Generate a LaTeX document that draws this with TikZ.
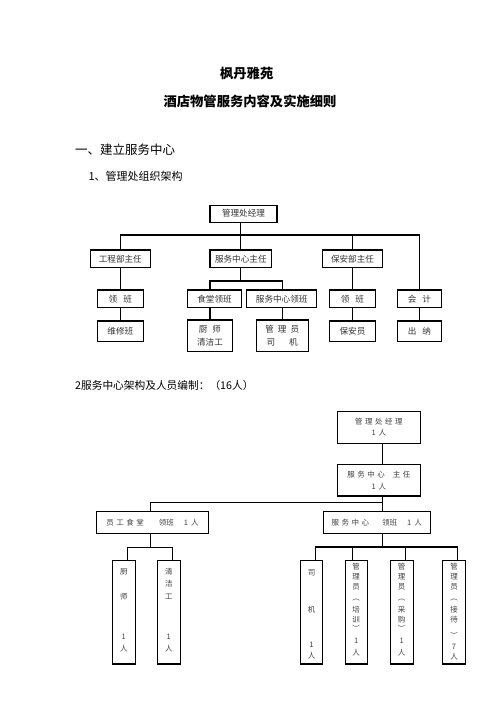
\documentclass[tikz,border=0pt]{standalone}
\usepackage{fontspec}
\setmainfont{Noto Sans CJK SC}
\usetikzlibrary{calc}
\newcommand{\lsgap}{\hspace{2.5pt}}
\tikzset{
  box/.style={draw, line width=1.1pt, inner sep=0pt, align=center, text=black!80},
  ca/.style={font=\fontsize{8.6}{13.4}\selectfont},
  cb/.style={font=\fontsize{7.5}{11.8}\selectfont, text=black!75},
  vt/.style={inner sep=0pt, text=black!75, font=\fontsize{7.5}{9}\selectfont},
  conn/.style={line width=1.1pt},
  txt/.style={inner sep=0pt, text=black},
}
\begin{document}
\begin{tikzpicture}[x=1pt,y=-1pt]
\fill[white] (0,0) rectangle (496,702);
\useasboundingbox (0,0) rectangle (496,702);

% titles
\node[txt, font=\bfseries\fontsize{13.3}{16}\selectfont] (t1) at (246.7,73.3) {枫丹雅苑};
\node[txt, font=\bfseries\fontsize{13.3}{16}\selectfont] (t2) at (250,101.7) {酒店物管服务内容及实施细则};
\node[txt, anchor=west, font=\fontsize{12.5}{15}\selectfont] (s1) at (75,150) {一、建立服务中心};
\node[txt, anchor=west, font=\fontsize{11}{13}\selectfont] (s2) at (88.3,176.7) {1、管理处组织架构};
\node[txt, anchor=west, font=\fontsize{10.7}{13}\selectfont] (s3) at (75,385) {2服务中心架构及人员编制：（16人）};

% ---------- chart 1 ----------
\node[box, ca, minimum width=67pt, minimum height=17.3pt] (m1) at (243.5,213.7) {管理处经理};

\node[box, ca, minimum width=60pt, minimum height=17.7pt] (a1) at (120.3,258.8) {工程部主任};
\node[box, ca, minimum width=61.7pt, minimum height=17.7pt] (a2) at (240.8,258.8) {服务中心主任};
\node[box, ca, minimum width=60.7pt, minimum height=17.7pt] (a3) at (352.5,258.8) {保安部主任};

\node[box, ca, minimum width=46pt, minimum height=17.7pt] (b1) at (120.3,298.8) {领\hspace{6pt}班};
\node[box, ca, minimum width=54.4pt, minimum height=17.7pt] (b2) at (214.5,298.8) {食堂领班};
\node[box, ca, minimum width=70pt, minimum height=17.7pt] (b3) at (281.7,298.8) {服务中心领班};
\node[box, ca, minimum width=46.7pt, minimum height=17.7pt] (b4) at (352.5,298.8) {领\hspace{6pt}班};
\node[box, ca, minimum width=44pt, minimum height=17.7pt] (b5) at (419.5,298.8) {会\hspace{6pt}计};

\node[box, ca, minimum width=46pt, minimum height=20.7pt] (c1) at (120.3,331.3) {维修班};
\node[box, ca, minimum width=45.4pt, minimum height=31.7pt] (c2) at (210,335.8) {厨\hspace{5pt}师\\清洁工};
\node[box, ca, minimum width=52.3pt, minimum height=31.7pt] (c3) at (282.2,335.8) {管\hspace{4pt}理\hspace{4pt}员\\司\hspace{14pt}机};
\node[box, ca, minimum width=46.7pt, minimum height=20.7pt] (c4) at (352.5,331.3) {保安员};
\node[box, ca, minimum width=44pt, minimum height=20.7pt] (c5) at (419.5,331.3) {出\hspace{6pt}纳};

\coordinate (h1) at (240.8,235);
\coordinate (h2) at (240.8,281);
\draw[conn] (m1.south -| a2) -- (a2.north);
\draw[conn] (a1.north) |- (h1) -| (b5.north);
\draw[conn] (a3.north) -- (a3 |- h1);
\draw[conn] (a1.south) -- (b1.north);
\draw[conn] (b1.south) -- (c1.north);
\draw[conn] (a2.south) -- (h2);
\draw[conn] (c2 |- b2.north) |- (h2) -| (c3 |- b3.north);
\draw[conn] (c2 |- b2.south) -- (c2.north);
\draw[conn] (c3 |- b3.south) -- (c3.north);
\draw[conn] (a3.south) -- (b4.north);
\draw[conn] (b4.south) -- (c4.north);
\draw[conn] (b5.south) -- (c5.north);

% ---------- chart 2 ----------
\node[box, cb, minimum width=82.8pt, minimum height=31.7pt] (n1) at (378.9,427.2)
  {管\lsgap 理\lsgap 处\lsgap 经\lsgap 理\\1\hspace{3pt}人};
\node[box, cb, minimum width=82.8pt, minimum height=31.3pt] (n2) at (378.9,480.3)
  {服\lsgap 务\lsgap 中\lsgap 心\hspace{8pt}主\lsgap 任\\1\hspace{3pt}人};
\node[box, cb, minimum width=111.6pt, minimum height=22.3pt] (n3) at (152.5,522.2)
  {员\lsgap 工\lsgap 食\lsgap 堂\hspace{15pt}领班\hspace{10pt}1\hspace{3pt}人};
\node[box, cb, minimum width=106.7pt, minimum height=22.3pt] (n4) at (376.7,522.2)
  {服\lsgap 务\lsgap 中\lsgap 心\hspace{13pt}领班\hspace{10pt}1\hspace{3pt}人};

\node[box, minimum width=23pt, minimum height=103.3pt] (k1) at (123.8,612.3) {};
\node[box, minimum width=22.5pt, minimum height=103.3pt] (k2) at (168.8,612.3) {};
\node[box, minimum width=21.6pt, minimum height=103.3pt] (k3) at (311.5,612.3) {};
\node[box, minimum width=22.3pt, minimum height=103.3pt] (k4) at (356.2,612.3) {};
\node[box, minimum width=23.3pt, minimum height=103.3pt] (k5) at (401.7,612.3) {};
\node[box, minimum width=23.4pt, minimum height=103.3pt] (k6) at (454,612.3) {};

% vertical texts
\node[vt] at (123.8,571.7) {厨};
\node[vt] at (123.8,596.7) {师};
\node[vt] at (123.8,636.7) {1};
\node[vt] at (123.8,648.3) {人};

\node[vt] at (168.8,571.7) {清};
\node[vt] at (168.8,583.3) {洁};
\node[vt] at (168.8,596.7) {工};
\node[vt] at (168.8,636.7) {1};
\node[vt] at (168.8,648.3) {人};

\node[vt] at (311.5,573.3) {司};
\node[vt] at (311.5,610) {机};
\node[vt] at (311.5,645) {1};
\node[vt] at (311.5,656) {人};

\node[vt] at (356.2,566.7) {管};
\node[vt] at (356.2,576.7) {理};
\node[vt] at (356.2,586.7) {员};
\node[vt] at (356.2,600) {︵};
\node[vt] at (356.2,610) {培};
\node[vt] at (356.2,619.3) {训};
\node[vt] at (356.2,628.3) {︶};
\node[vt] at (356.2,641) {1};
\node[vt] at (356.2,653) {人};

\node[vt] at (401.7,566.7) {管};
\node[vt] at (401.7,576.7) {理};
\node[vt] at (401.7,586.7) {员};
\node[vt] at (401.7,600) {︵};
\node[vt] at (401.7,610) {采};
\node[vt] at (401.7,619.3) {购};
\node[vt] at (401.7,628.3) {︶};
\node[vt] at (401.7,641) {1};
\node[vt] at (401.7,653) {人};

\node[vt] at (454,566.7) {管};
\node[vt] at (454,576.7) {理};
\node[vt] at (454,586.7) {员};
\node[vt] at (454,600) {︵};
\node[vt] at (454,610) {接};
\node[vt] at (454,620) {待};
\node[vt] at (454,635) {︶};
\node[vt] at (454,646.5) {7};
\node[vt] at (454,656.5) {人};

% connectors chart 2
\coordinate (sp) at (382.5,502.5);
\coordinate (sl) at (150.7,502.5);
\coordinate (bl) at (150.7,547.3);
\coordinate (dl1) at (127.5,547.3);
\coordinate (dl2) at (172.3,547.3);
\coordinate (br) at (382.5,547);
\coordinate (dr3) at (315.7,547);
\coordinate (dr4) at (352.3,547);
\coordinate (dr5) at (405.7,547);
\coordinate (dr6) at (457.7,547);

\draw[conn] (n1.south -| sp) -- (n2.north -| sp);
\draw[conn] (n2.south -| sp) -- (n4.north -| sp);
\draw[conn] (sp) -- (sl) -- (sl |- n3.north);
\draw[conn] (sl |- n3.south) -- (bl);
\draw[conn] (dl1 |- k1.north) -- (dl1) -- (dl2) -- (dl2 |- k2.north);
\draw[conn] (n4.south -| sp) -- (br);
\draw[conn] (dr3 |- k3.north) -- (dr3) -- (dr6) -- (dr6 |- k6.north);
\draw[conn] (dr4) -- (dr4 |- k4.north);
\draw[conn] (dr5) -- (dr5 |- k5.north);
\end{tikzpicture}
\end{document}
